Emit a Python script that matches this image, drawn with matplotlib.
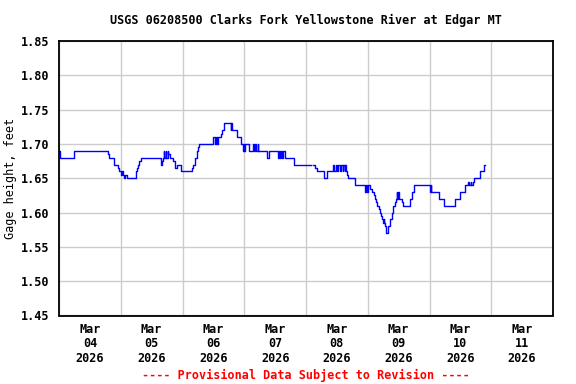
import numpy as np
import pandas as pd
import matplotlib
matplotlib.use("Agg")
import matplotlib.pyplot as plt
import matplotlib.dates as mdates

## Gage height readings, read off the USGS graph as step change points
## hours since 2026-03-04 00:00 (local), value holds until next point
start = pd.Timestamp("2026-03-04 00:00")
hours = [
    0.0, 0.25, 6.0, 19.0, 19.5, 21.5, 22.75, 23.25, 24.0, 24.5, 24.75, 25.25, 25.5, 26.25,
    30.0, 30.5, 30.75, 31.25, 31.75, 39.5, 40.0, 40.5, 40.75, 41.0, 41.5, 41.75, 42.25,
    42.5, 43.0, 44.5, 45.0, 45.25, 45.75, 47.25, 47.5, 51.5, 52.0, 52.75, 53.5, 54.0,
    54.25, 60.0, 60.5, 61.0, 61.25, 61.75, 63.0, 63.25, 64.0, 66.75, 67.0, 67.25, 69.25,
    70.75, 71.5, 71.75, 72.0, 72.25, 74.0, 75.5, 75.75, 76.25, 76.5, 77.25, 77.5, 81.0,
    81.5, 85.25, 85.5, 86.0, 86.25, 86.75, 87.25, 87.75, 91.5, 97.75, 98.75, 99.5, 100.25,
    103.0, 104.0, 106.5, 107.0, 107.5, 108.0, 108.25, 109.25, 109.5, 110.25, 110.5, 111.0,
    111.25, 111.5, 112.0, 112.25, 115.0, 119.0, 119.5, 119.75, 120.25, 120.75, 121.5,
    122.25, 122.75, 123.25, 123.75, 124.25, 124.75, 125.25, 125.5, 126.0, 126.25, 126.5,
    126.75, 127.0, 127.75, 128.75, 129.5, 129.75, 130.0, 130.5, 131.0, 131.25, 131.5,
    131.75, 132.25, 133.25, 133.75, 136.5, 137.25, 138.0, 144.25, 144.5, 144.75, 147.5,
    149.75, 153.75, 156.0, 157.75, 159.0, 159.5, 160.0, 160.25, 160.75, 161.25, 163.5,
    165.0, 165.5,
]
gage_ft = [
    1.69, 1.68, 1.69, 1.685, 1.68, 1.67, 1.665, 1.66, 1.655, 1.66, 1.655, 1.65, 1.655, 1.65,
    1.66, 1.665, 1.67, 1.675, 1.68, 1.67, 1.675, 1.68, 1.69, 1.68, 1.69, 1.68, 1.69,
    1.685, 1.68, 1.675, 1.67, 1.665, 1.67, 1.665, 1.66, 1.665, 1.67, 1.68, 1.69, 1.695,
    1.70, 1.71, 1.70, 1.71, 1.70, 1.71, 1.715, 1.72, 1.73, 1.72, 1.73, 1.72, 1.71,
    1.70, 1.69, 1.70, 1.69, 1.70, 1.69, 1.70, 1.69, 1.70, 1.69, 1.70, 1.69, 1.68,
    1.69, 1.68, 1.69, 1.68, 1.69, 1.68, 1.69, 1.68, 1.67, np.nan, 1.67, 1.665, 1.66,
    1.65, 1.66, 1.67, 1.66, 1.67, 1.66, 1.67, 1.66, 1.67, 1.66, 1.67, 1.66,
    1.67, 1.66, 1.655, 1.65, 1.64, 1.63, 1.64, 1.63, 1.64, 1.635, 1.63,
    1.625, 1.62, 1.615, 1.61, 1.605, 1.60, 1.595, 1.59, 1.585, 1.59, 1.585,
    1.58, 1.57, 1.58, 1.59, 1.60, 1.605, 1.61, 1.615, 1.62, 1.63, 1.62,
    1.63, 1.62, 1.615, 1.61, 1.62, 1.63, 1.64, 1.63, 1.64, 1.63, 1.62,
    1.61, 1.62, 1.63, 1.64, 1.645, 1.64, 1.645, 1.64, 1.645, 1.65, 1.66,
    1.67, 1.67,
]
times = start + pd.to_timedelta(hours, unit="h")

title = "USGS 06208500 Clarks Fork Yellowstone River at Edgar MT"
footer = "---- Provisional Data Subject to Revision ----"
y_ticks = [1.45, 1.50, 1.55, 1.60, 1.65, 1.70, 1.75, 1.80, 1.85]

plt.rcParams['font.family'] = 'DejaVu Sans Mono'
plt.rcParams['font.weight'] = 'bold'
plt.rcParams['font.size'] = 8.5

fig = plt.figure(figsize=(5.76, 3.84), dpi=100)
ax = fig.add_axes([59/576, 1 - 315.5/384, 494/576, 274.5/384])

ax.plot(times, gage_ft, drawstyle='steps-post', color='#0000ff', linewidth=1.0)

ax.set_xlim(pd.Timestamp("2026-03-04"), pd.Timestamp("2026-03-12"))
ax.set_ylim(1.45, 1.85)
ax.set_yticks(y_ticks)
ax.set_yticklabels([f"{v:.2f}" for v in y_ticks])

## gridlines at midnight, labels centred at noon
ax.xaxis.set_major_locator(mdates.DayLocator())
ax.xaxis.set_major_formatter(plt.NullFormatter())
ax.xaxis.set_minor_locator(mdates.HourLocator(byhour=[12]))
ax.xaxis.set_minor_formatter(mdates.DateFormatter("%b\n%d\n%Y"))
ax.tick_params(axis='x', which='both', length=0, pad=5.5)
ax.tick_params(axis='y', length=0, pad=7)
for lbl in ax.get_xticklabels(minor=True):
    lbl.set_linespacing(1.12)

ax.grid(True, which='major', color='#cccccc', linewidth=1.0)
ax.set_axisbelow(True)
for s in ax.spines.values():
    s.set_linewidth(1.3)

ax.set_ylabel("Gage height, feet")
ax.yaxis.set_label_coords((17 - 59) / 494, 0.5)
fig.text(306/576, 1 - 20/384, title, ha='center', va='center')
fig.text(306/576, 1 - 375/384, footer, ha='center', va='center', color='red')

fig.savefig("out.png", dpi=100)
